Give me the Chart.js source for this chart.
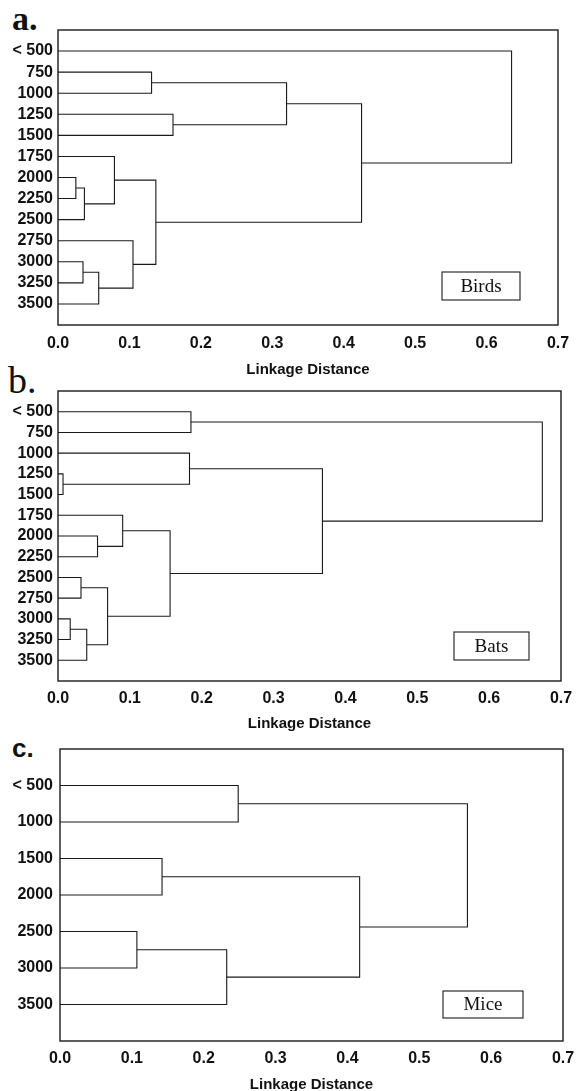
<!DOCTYPE html>
<html>
<head>
<meta charset="utf-8">
<script src="https://cdn.jsdelivr.net/npm/chart.js@4.4.1/dist/chart.umd.min.js"></script>
<style>
    body { margin: 0; background: #fff; }
    #page { position: relative; width: 577px; height: 1091px; overflow: hidden; }
    canvas { position: absolute; left: 0; }
    .tag { position: absolute; color: #111; line-height: 1; }
</style>
</head>
<body>
<div id="page">
    <div class="tag" style="left:12px; top:0px; font: bold 34px 'Liberation Serif', serif;">a.</div>
    <div class="tag" style="left:8px; top:358px; font: 38px 'Liberation Serif', serif;">b.</div>
    <div class="tag" style="left:12px; top:733px; font: bold 26px 'Liberation Sans', Arial, sans-serif;">c.</div>
    <canvas id="birds" width="577" height="380" style="top:0px"></canvas>
    <canvas id="bats" width="577" height="352" style="top:380px"></canvas>
    <canvas id="mice" width="577" height="359" style="top:732px"></canvas>
</div>
<script>
// distance axis ticks
const xTicks = [0.0, 0.1, 0.2, 0.3, 0.4, 0.5, 0.6, 0.7];

// Birds: leaves top to bottom, merges as [childA, childB, distance]
// (child index >= leaf count refers to an earlier merge)
const birdLabels = ['< 500', '750', '1000', '1250', '1500', '1750', '2000', '2250', '2500', '2750', '3000', '3250', '3500'];
const birdMerges = [
    [6, 7, 0.025],
    [13, 8, 0.037],
    [5, 14, 0.079],
    [10, 11, 0.035],
    [16, 12, 0.057],
    [9, 17, 0.105],
    [15, 18, 0.137],
    [1, 2, 0.131],
    [3, 4, 0.161],
    [20, 21, 0.320],
    [22, 19, 0.425],
    [0, 23, 0.635]
];

// Bats
const batLabels = ['< 500', '750', '1000', '1250', '1500', '1750', '2000', '2250', '2500', '2750', '3000', '3250', '3500'];
const batMerges = [
    [6, 7, 0.055],
    [5, 13, 0.090],
    [8, 9, 0.032],
    [10, 11, 0.017],
    [16, 12, 0.040],
    [15, 17, 0.069],
    [14, 18, 0.156],
    [3, 4, 0.007],
    [2, 20, 0.183],
    [21, 19, 0.368],
    [0, 1, 0.185],
    [23, 22, 0.674]
];

// Mice
const miceLabels = ['< 500', '1000', '1500', '2000', '2500', '3000', '3500'];
const miceMerges = [
    [0, 1, 0.248],
    [2, 3, 0.142],
    [4, 5, 0.107],
    [9, 6, 0.232],
    [8, 10, 0.417],
    [7, 11, 0.567]
];

const lineColor = '#1a1a1a';
const sans = "'Liberation Sans', Arial, sans-serif";

// turn the merge list into one U-shaped line per merge
function dendrogramSets(labels, merges) {
    const pos = labels.map((_, i) => i);
    const height = labels.map(() => 0);
    const sets = [];
    merges.forEach(([a, b, h]) => {
        sets.push({
            data: [
                { x: height[a], y: pos[a] },
                { x: h, y: pos[a] },
                { x: h, y: pos[b] },
                { x: height[b], y: pos[b] }
            ],
            showLine: true,
            pointRadius: 0,
            borderColor: lineColor,
            borderWidth: 1.1,
            fill: false
        });
        pos.push((pos[a] + pos[b]) / 2);
        height.push(h);
    });
    return sets;
}

// box around the plot area plus the group name box
const framePlugin = {
    id: 'frame',
    afterDraw(chart, args, opts) {
        const { ctx, chartArea: a } = chart;
        ctx.save();
        ctx.strokeStyle = lineColor;
        ctx.lineWidth = 1.4;
        ctx.strokeRect(a.left, a.top, a.right - a.left, a.bottom - a.top);
        const bx = a.right - opts.right - opts.w;
        const by = a.bottom - opts.bottom - opts.h;
        ctx.lineWidth = 1.1;
        ctx.strokeRect(bx, by, opts.w, opts.h);
        ctx.fillStyle = '#111';
        ctx.font = "19px 'Liberation Serif', serif";
        ctx.textAlign = 'center';
        ctx.textBaseline = 'middle';
        ctx.fillText(opts.name, bx + opts.w / 2, by + opts.h / 2 + 1);
        ctx.restore();
    }
};

function makeChart(id, labels, merges, frame, box) {
    const canvas = document.getElementById(id);
    return new Chart(canvas, {
        type: 'scatter',
        data: { datasets: dendrogramSets(labels, merges) },
        options: {
            responsive: false,
            animation: false,
            layout: {
                padding: { top: frame.top, right: canvas.width - frame.right, left: 0, bottom: 0 }
            },
            scales: {
                x: {
                    type: 'linear',
                    min: 0,
                    max: 0.7,
                    grid: { display: false, drawTicks: false },
                    border: { display: false },
                    afterBuildTicks: s => { s.ticks = xTicks.map(v => ({ value: v })); },
                    afterFit: s => {
                        s.height = canvas.height - frame.bottom;
                        s.paddingLeft = 0;
                        s.paddingRight = 0;
                    },
                    ticks: {
                        autoSkip: false,
                        maxRotation: 0,
                        padding: frame.tickPad,
                        color: '#111',
                        font: { family: sans, size: 16, weight: 'bold' },
                        callback: v => Number(v).toFixed(1)
                    },
                    title: {
                        display: true,
                        text: 'Linkage Distance',
                        color: '#111',
                        font: { family: sans, size: 15, weight: 'bold', lineHeight: 1 },
                        padding: { top: 0, bottom: frame.titlePad }
                    }
                },
                y: {
                    type: 'linear',
                    reverse: true,
                    min: -1,
                    max: labels.length,
                    grid: { display: false, drawTicks: false },
                    border: { display: false },
                    afterBuildTicks: s => { s.ticks = labels.map((_, i) => ({ value: i })); },
                    afterFit: s => {
                        s.width = frame.left;
                        s.paddingTop = 0;
                        s.paddingBottom = 0;
                    },
                    ticks: {
                        autoSkip: false,
                        padding: frame.left - 53,
                        color: '#111',
                        font: { family: sans, size: 16, weight: 'bold' },
                        callback: v => labels[v]
                    }
                }
            },
            plugins: {
                legend: { display: false },
                tooltip: { enabled: false },
                frame: box
            }
        },
        plugins: [framePlugin]
    });
}

makeChart('birds', birdLabels, birdMerges,
    { top: 30, bottom: 325, left: 58, right: 558, tickPad: 9, titlePad: 3 },
    { name: 'Birds', right: 38, bottom: 25, w: 78, h: 28 });
makeChart('bats', batLabels, batMerges,
    { top: 11, bottom: 301, left: 58, right: 561, tickPad: 8, titlePad: 0.5 },
    { name: 'Bats', right: 32, bottom: 21, w: 75, h: 28 });
makeChart('mice', miceLabels, miceMerges,
    { top: 17, bottom: 309, left: 60, right: 563, tickPad: 8, titlePad: -1.5 },
    { name: 'Mice', right: 40, bottom: 23, w: 80, h: 27 });
</script>
</body>
</html>
